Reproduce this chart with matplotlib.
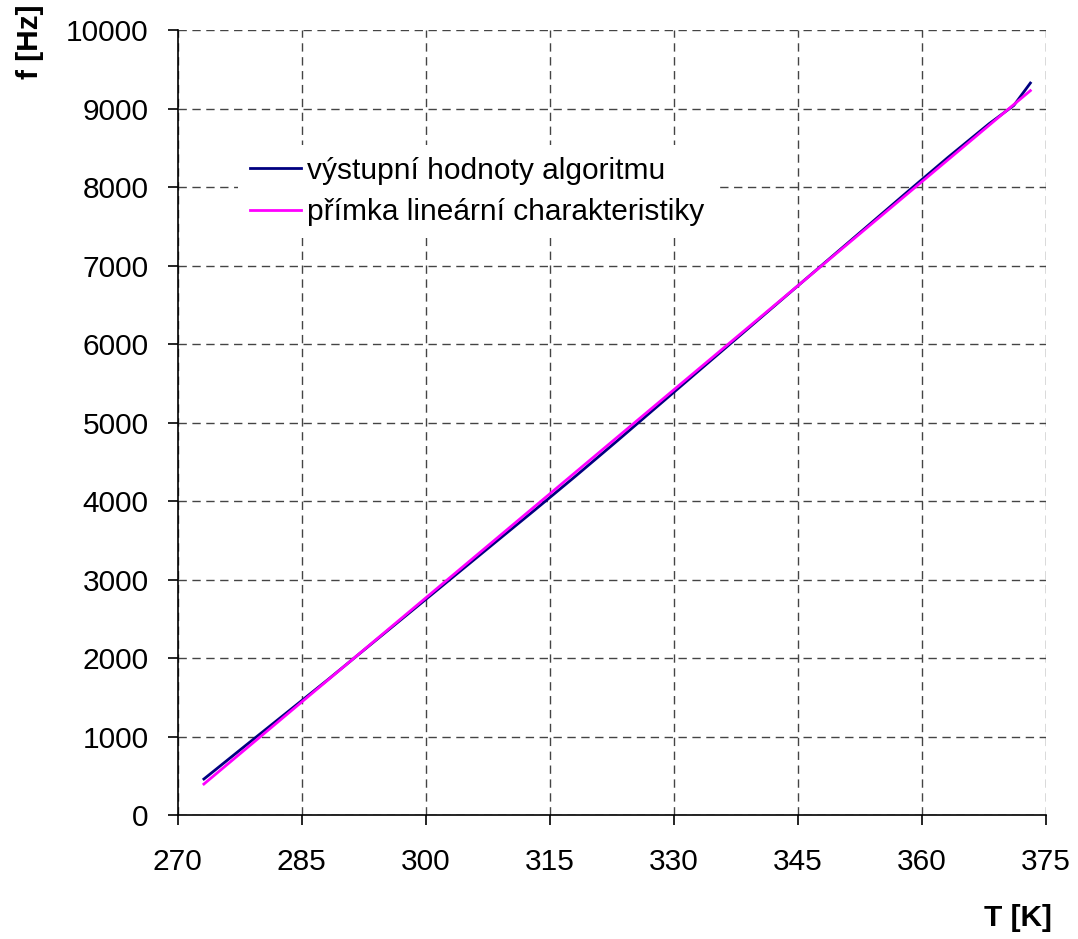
import numpy as np
import matplotlib.pyplot as plt

plt.rcParams['font.family'] = ['Liberation Sans', 'DejaVu Sans']

# Data
T = [273.15, 278.15, 283.15, 288.15, 293.15, 298.15, 303.15, 308.15, 313.15,
     318.15, 323.15, 328.15, 333.15, 338.15, 343.15, 348.15, 353.15, 358.15,
     363.15, 368.15, 371.15, 373.15]
f_alg = [459, 882, 1303, 1725, 2157, 2588, 3020, 3452, 3883, 4320, 4766,
         5218, 5670, 6121, 6573, 7025, 7476, 7928, 8375, 8806, 9040, 9325]
T_lin = [273.15, 373.15]
f_lin = [395, 9228]

modra = '#000080'
ruzova = '#FF00FF'

fig = plt.figure(figsize=(10.78, 9.39), dpi=100)
ax = fig.add_axes([0.165, 0.132, 0.805, 0.836])

ax.plot(T, f_alg, '-', color=modra, lw=2.0, label='výstupní hodnoty algoritmu')
ax.plot(T_lin, f_lin, '-', color=ruzova, lw=2.0, label='přímka lineární charakteristiky')

ax.set_xlim(270, 375)
ax.set_ylim(0, 10000)
ax.set_xticks(np.arange(270, 376, 15))
ax.set_yticks(np.arange(0, 10001, 1000))
ax.grid(True, color='#444444', linestyle=(0, (6, 4)), linewidth=1.0)
ax.set_axisbelow(True)
for s in ['top', 'right']:
    ax.spines[s].set_visible(False)
for s in ['left', 'bottom']:
    ax.spines[s].set_linewidth(1.2)
ax.tick_params(direction='out', length=7, width=1.2, labelsize=21.5)
ax.tick_params(axis='y', pad=14)
ax.tick_params(axis='x', pad=17)

fig.text(0.028, 0.995, 'f [Hz]', rotation=90, ha='center', va='top',
         fontsize=21.5, fontweight='bold')
fig.text(0.976, 0.022, 'T [K]', ha='right', va='center',
         fontsize=21.5, fontweight='bold')

leg = ax.legend(loc='upper left', bbox_to_anchor=(0.052, 0.873), fontsize=21.5,
                frameon=True, fancybox=False, edgecolor='none', framealpha=1,
                handlelength=1.7, handletextpad=0.2, labelspacing=0.45,
                borderpad=0.4)

fig.savefig('out.png', dpi=100)
